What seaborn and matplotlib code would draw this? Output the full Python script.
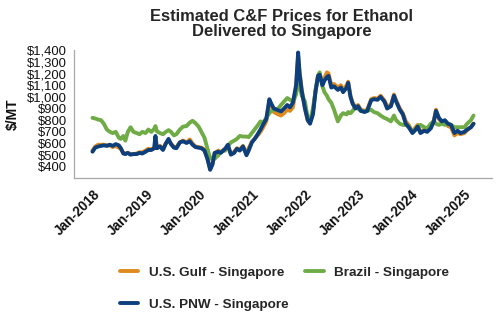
import matplotlib
matplotlib.use("Agg")
import matplotlib.pyplot as plt
import matplotlib.dates as mdates
from matplotlib.lines import Line2D
import seaborn as sns
import pandas as pd

# Observation dates shared by all three routes
dates = [
    "2018-01-01", "2018-01-20", "2018-02-10", "2018-03-01", "2018-03-20", "2018-04-10",
    "2018-05-01", "2018-05-20", "2018-06-10", "2018-07-01", "2018-07-15", "2018-08-01",
    "2018-08-15", "2018-09-01", "2018-09-20", "2018-10-10", "2018-11-01", "2018-11-20",
    "2018-12-10", "2019-01-01", "2019-01-20", "2019-02-10", "2019-03-01", "2019-03-10",
    "2019-03-20", "2019-04-10", "2019-05-01", "2019-05-20", "2019-06-08", "2019-06-25",
    "2019-07-15", "2019-08-01", "2019-08-25", "2019-09-15", "2019-10-10", "2019-11-01",
    "2019-11-20", "2019-12-10", "2020-01-01", "2020-01-20", "2020-02-10", "2020-03-01",
    "2020-03-20", "2020-04-05", "2020-04-20", "2020-05-15", "2020-06-01", "2020-07-01",
    "2020-07-20", "2020-08-10", "2020-09-01", "2020-09-20", "2020-10-10", "2020-11-01",
    "2020-11-25", "2020-12-10", "2021-01-01", "2021-01-20", "2021-02-10", "2021-03-01",
    "2021-03-20", "2021-04-10", "2021-05-01", "2021-05-15", "2021-06-01", "2021-07-01",
    "2021-07-20", "2021-08-10", "2021-09-01", "2021-09-20", "2021-10-10", "2021-11-01",
    "2021-11-15", "2021-11-25", "2021-12-10", "2022-01-01", "2022-01-20", "2022-02-05",
    "2022-02-25", "2022-03-15", "2022-04-01", "2022-04-12", "2022-05-01", "2022-05-15",
    "2022-06-01", "2022-06-12", "2022-07-01", "2022-07-20", "2022-08-15", "2022-09-05",
    "2022-09-20", "2022-10-15", "2022-10-25", "2022-11-10", "2022-11-25", "2022-12-15",
    "2023-01-01", "2023-01-20", "2023-02-15", "2023-03-05", "2023-04-01", "2023-04-20",
    "2023-05-15", "2023-06-05", "2023-07-01", "2023-07-20", "2023-08-15", "2023-09-05",
    "2023-09-20", "2023-10-15", "2023-11-05", "2023-11-25", "2023-12-15", "2024-01-10",
    "2024-02-01", "2024-02-15", "2024-03-05", "2024-04-01", "2024-04-20", "2024-05-15",
    "2024-06-05", "2024-06-20", "2024-07-10", "2024-07-30", "2024-08-20", "2024-09-10",
    "2024-10-01", "2024-10-25", "2024-11-15", "2024-12-05", "2025-01-01", "2025-01-20",
    "2025-02-15", "2025-03-05",
]

# Estimated C&F price, $/MT
us_gulf = [
    540, 575, 590, 590, 590, 585, 585, 570, 580, 565, 555, 520,
    515, 520, 510, 510, 515, 525, 525, 540, 555, 550, 560, 580,
    560, 580, 555, 600, 625, 600, 570, 570, 610, 625, 610, 635,
    600, 575, 570, 565, 550, 475, 385, 430, 515, 540, 525, 555,
    575, 510, 530, 560, 550, 580, 510, 560, 615, 640, 670, 700,
    740, 790, 960, 930, 870, 850, 840, 860, 890, 880, 910, 1080,
    1350, 1210, 1060, 900, 800, 780, 870, 1060, 1180, 1195, 1120, 1160,
    1210, 1200, 1100, 1110, 1080, 1100, 1060, 1100, 1130, 1010, 950, 910,
    930, 890, 880, 890, 980, 990, 985, 1010, 970, 920, 930, 1020,
    970, 900, 860, 790, 760, 700, 740, 760, 700, 720, 710, 740,
    800, 890, 810, 780, 790, 750, 740, 670, 690, 680, 690, 715,
    740, 770,
]
brazil = [
    820, 815, 805, 800, 770, 720, 700, 690, 700, 650, 640, 665,
    625, 700, 740, 700, 690, 680, 700, 690, 720, 700, 725, 750,
    705, 690, 680, 700, 715, 700, 670, 680, 720, 745, 750, 780,
    795, 775, 745, 700, 650, 560, 470, 480, 470, 500, 530, 540,
    580, 610, 625, 640, 665, 660, 660, 655, 690, 720, 755, 790,
    780, 820, 860, 880, 890, 900, 930, 960, 990, 975, 960, 1020,
    1130, 1100, 1010, 960, 820, 790, 900, 1050, 1180, 1210, 1090, 1040,
    1010, 980, 950, 890, 790, 840, 860, 850, 870, 860, 880, 920,
    900, 880, 880, 880, 890, 870, 860, 840, 820, 810, 790, 840,
    800, 770, 760, 760, 750, 700, 720, 745, 760, 740, 730, 770,
    790, 770, 760, 770, 760, 770, 760, 740, 740, 740, 740, 770,
    800, 840,
]
us_pnw = [
    530, 565, 575, 580, 585, 580, 590, 580, 595, 585, 560, 515,
    510, 520, 505, 510, 510, 520, 515, 530, 545, 545, 560, 665,
    560, 575, 545, 600, 640, 595, 565, 560, 610, 620, 605, 620,
    590, 570, 565, 560, 540, 470, 375, 420, 520, 530, 520, 555,
    590, 505, 520, 555, 540, 575, 500, 540, 610, 640, 680, 720,
    765, 810, 980, 940, 900, 885, 875, 900, 930, 910, 950, 1100,
    1380, 1200, 1050, 900, 800, 770, 850, 1050, 1180, 1190, 1100, 1140,
    1170, 1180, 1080, 1090, 1060, 1080, 1040, 1080, 1120, 1000, 940, 900,
    920, 880, 870, 880, 970, 980, 975, 1000, 960, 900, 920, 1010,
    960, 890, 850, 770, 740, 690, 720, 745, 690, 710, 700, 730,
    790, 880, 820, 790, 800, 770, 760, 690, 710, 690, 700, 720,
    740, 770,
]

series_names = ["U.S. Gulf - Singapore", "Brazil - Singapore", "U.S. PNW - Singapore"]
series_colors = ["#DF8A1F", "#6FAC46", "#0D3F7C"]
y_ticks = [400, 500, 600, 700, 800, 900, 1000, 1100, 1200, 1300, 1400]

frame = pd.DataFrame({
    "date": pd.to_datetime(dates * 3),
    "price": us_gulf + brazil + us_pnw,
    "route": [series_names[0]] * len(dates) + [series_names[1]] * len(dates)
             + [series_names[2]] * len(dates),
})

sns.set_theme(style="white")
plt.rcParams["font.family"] = ["Liberation Sans", "DejaVu Sans"]

fig = plt.figure(figsize=(5.0, 3.3), dpi=100)
ax = fig.add_axes([0.148, 0.462, 0.836, 0.386])

sns.lineplot(data=frame, x="date", y="price", hue="route", hue_order=series_names,
             palette=dict(zip(series_names, series_colors)), linewidth=2.8,
             legend=False, ax=ax)

ax.set_xlim(pd.Timestamp("2017-08-27"), pd.Timestamp("2025-07-10"))
ax.set_ylim(309, 1400)
ax.set_yticks(y_ticks)
ax.set_yticklabels([f"${v:,}" for v in y_ticks], fontsize=9.4, color="#111111")

ax.xaxis.set_major_locator(mdates.YearLocator(1, month=1, day=1))
ax.xaxis.set_major_formatter(mdates.DateFormatter("Jan-%Y"))
for lab in ax.get_xticklabels():
    lab.set_rotation(45)
    lab.set_ha("right")
    lab.set_rotation_mode("anchor")
    lab.set_fontsize(9.8)
    lab.set_fontweight("bold")
    lab.set_color("#111111")

ax.tick_params(axis="both", which="major", direction="out", length=3, width=0.8,
               color="#9A9A9A", pad=2)
ax.tick_params(axis="x", pad=4)
ax.set_xlabel("")
ax.set_ylabel("$/MT", fontsize=10, fontweight="bold", color="#111111")
ax.yaxis.set_label_coords(-0.13, 0.5)

for side in ("top", "right"):
    ax.spines[side].set_visible(False)
for side in ("left", "bottom"):
    ax.spines[side].set_color("#A8A8A8")
    ax.spines[side].set_linewidth(0.9)

fig.suptitle("Estimated C&F Prices for Ethanol\nDelivered to Singapore",
             x=0.563, y=0.972, va="top", fontsize=11.9, fontweight="bold",
             linespacing=1.02)

handles = [Line2D([], [], color=c, linewidth=2.8) for c in series_colors]
order = [0, 2, 1]
fig.legend([handles[i] for i in order], [series_names[i] for i in order],
           loc="center left", bbox_to_anchor=(0.215, 0.125), ncol=2, frameon=False,
           handlelength=1.4, handletextpad=0.75, columnspacing=1.25,
           labelspacing=1.45, prop={"weight": "bold", "size": 9.7})

fig.savefig("out.png", dpi=100)
